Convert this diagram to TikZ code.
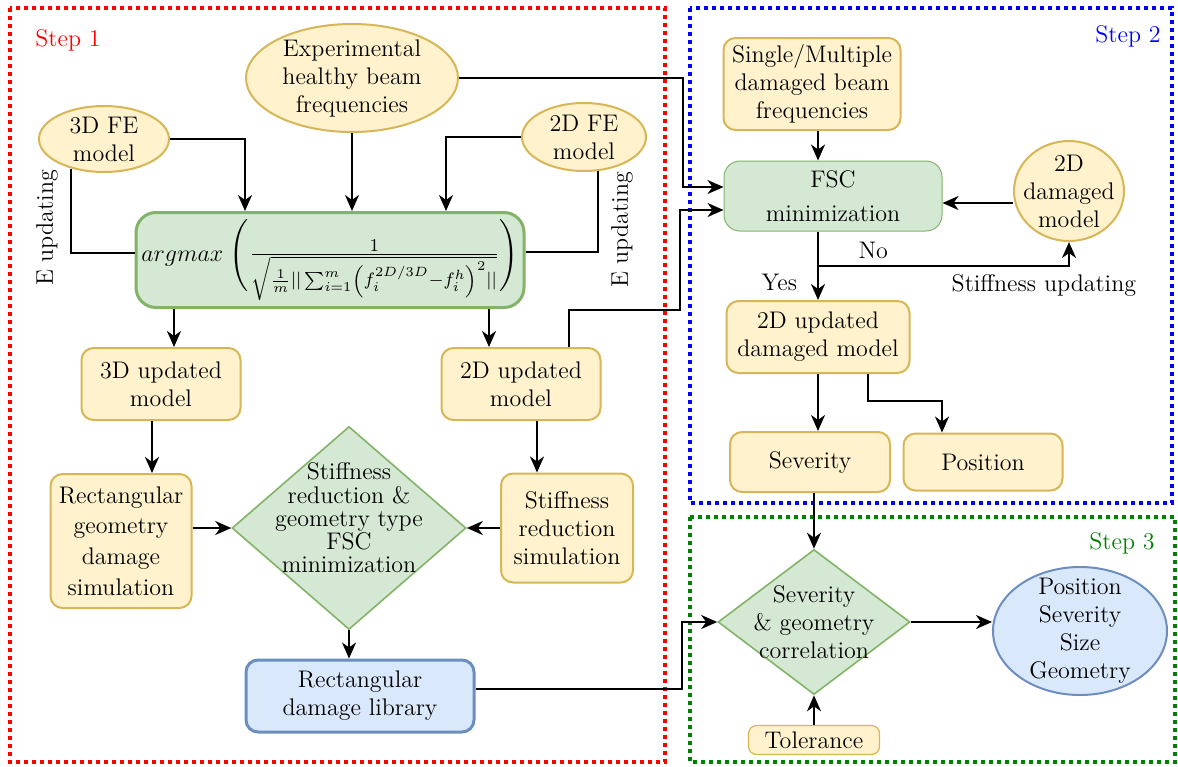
\documentclass[tikz,border=0pt]{standalone}
\usepackage{amsmath}
\usepackage{graphicx}
\usetikzlibrary{shapes.geometric,arrows.meta}

\definecolor{yfill}{HTML}{FFF2CC}
\definecolor{ydraw}{HTML}{D6B656}
\definecolor{gfill}{HTML}{D5E8D4}
\definecolor{gdraw}{HTML}{82B366}
\definecolor{bfill}{HTML}{DAE8FC}
\definecolor{bdraw}{HTML}{6C8EBF}
\definecolor{stepgreen}{HTML}{008000}

\begin{document}
\begin{tikzpicture}
  [x=0.5pt,y=-0.5pt,every node/.style={font=\large,align=center,inner sep=0pt},
   ybox/.style={rectangle,rounded corners=6pt,fill=yfill,draw=ydraw,line width=1pt},
   yell/.style={ellipse,fill=yfill,draw=ydraw,line width=1pt,inner sep=-6pt},
   gbox/.style={rectangle,rounded corners=8pt,fill=gfill,draw=gdraw},
   gdiam/.style={diamond,fill=gfill,draw=gdraw,line width=0.8pt,inner sep=-6pt},
   bbox/.style={rectangle,rounded corners=6pt,fill=bfill,draw=bdraw,line width=1.5pt},
   frame/.style={line width=2pt,dash pattern=on 2pt off 2pt},
   arr/.style={line width=1pt,-{Stealth[length=8pt,width=7pt,inset=2.5pt]}},
   link/.style={line width=1pt}]
  \useasboundingbox (0,0) rectangle (1178,766);

  \draw[frame,red] (10,8) rectangle (665,762);
  \draw[frame,blue] (690,8) rectangle (1172,503);
  \draw[frame,stepgreen] (690,517) rectangle (1175,762);
  \node[red] (step1) at (68,40) {Step 1};
  \node[blue] (step2) at (1128,36) {Step 2};
  \node[stepgreen] (step3) at (1122,543) {Step 3};

  \node[yell,minimum width=106pt,minimum height=54pt] (exper) at (352,78) {Experimental\\healthy beam\\frequencies};
  \node[yell,minimum width=65pt,minimum height=33pt] (fe3) at (104,139) {3D FE\\model};
  \node[yell,minimum width=62pt,minimum height=34pt] (fe2) at (584,137) {2D FE\\model};
  \node[gbox,line width=1.5pt,rounded corners=10pt,minimum width=194pt,minimum height=47.5pt] (argmx) at (330,260)
    {$argmax\;\Bigg(\scalebox{1.12}{$\frac{1}{\sqrt{\frac{1}{m}||\sum_{i=1}^{m}\left(f_i^{2D/3D}-f_i^{h}\right)^2||}}$}\Bigg)$};
  \node[ybox,minimum width=79.5pt,minimum height=36pt] (upd3) at (161,384) {3D updated\\model};
  \node[ybox,minimum width=79.5pt,minimum height=36pt] (upd2) at (521,384) {2D updated\\model};
  \node[ybox,minimum width=70.5pt,minimum height=67pt,font=\linespread{1.1}\large] (rectsim) at (121,541)
    {Rectangular\\geometry\\damage\\simulation};
  \node[gdiam,aspect=1.15,minimum width=117pt,minimum height=101.5pt,
    label={[yshift=5pt,font=\linespread{0.83}\large]center:Stiffness\\reduction \&\\geometry type\\FSC\\minimization}]
    (diam) at (349,528) {};
  \node[ybox,minimum width=66pt,minimum height=54.5pt] (ssim) at (567,528) {Stiffness\\reduction\\simulation};
  \node[bbox,minimum width=114pt,minimum height=36pt] (lib) at (360,696) {Rectangular\\damage library};

  \node[ybox,minimum width=88.5pt,minimum height=46pt] (single) at (812,84) {Single/Multiple\\damaged beam\\frequencies};
  \node[gbox,line width=0.5pt,minimum width=109pt,minimum height=35pt] (fsc) at (833,196) {FSC\\[3pt]minimization};
  \node[yell,minimum width=55pt,minimum height=50pt] (dmg2) at (1069,191) {2D\\damaged\\model};
  \node[ybox,minimum width=91.5pt,minimum height=36pt] (upddm) at (818,337) {2D updated\\damaged model};
  \node[ybox,minimum width=80pt,minimum height=30pt] (sev) at (810,462) {Severity};
  \node[ybox,minimum width=79.5pt,minimum height=28.5pt] (pos) at (983,462) {Position};

  \node[gdiam,aspect=1.3,minimum width=96pt,minimum height=72.5pt] (diam2) at (814,622) {Severity\\\& geometry\\correlation};
  \node[ellipse,fill=bfill,draw=bdraw,line width=1pt,inner sep=-6pt,minimum width=87pt,minimum height=64pt] (out) at (1080,631)
    {Position\\Severity\\Size\\Geometry};
  \node[ybox,rounded corners=4pt,line width=0.6pt,minimum width=65.5pt,minimum height=14.5pt] (tol) at (814,740) {Tolerance};

  \node[rotate=90] (eup1) at (47,228) {E updating};
  \node[rotate=90] (eup2) at (622,230) {E updating};

  \draw[arr] (exper.east) -| ([xshift=-20.5pt,yshift=4.5pt]fsc.west) -- ([yshift=4.5pt]fsc.west);
  \draw[arr] (exper.south) -- (exper.south |- argmx.north);
  \draw[arr] (fe3.east) -| ([xshift=-42.5pt]argmx.north);
  \draw[arr] (fe2.west) -| ([xshift=58pt]argmx.north);
  \draw[link] (fe3.222) |- ([yshift=3.5pt]argmx.west);
  \draw[link] (fe2.293) |- ([yshift=4pt]argmx.east);
  \draw[arr] ([xshift=6.5pt]upd3.north |- argmx.south) -- ([xshift=6.5pt]upd3.north);
  \draw[arr] ([xshift=-16pt]upd2.north |- argmx.south) -- ([xshift=-16pt]upd2.north);
  \draw[arr] ([xshift=-4.5pt]upd3.south) -- ([xshift=-4.5pt]upd3.south |- rectsim.north);
  \draw[arr] ([xshift=8pt]upd2.south) -- ([xshift=8pt]upd2.south |- ssim.north);
  \draw[arr] (rectsim.east |- diam.west) -- (diam.west);
  \draw[arr] (ssim.west) -- (diam.east);
  \draw[arr] (diam.south) -- (diam.south |- lib.north);
  \draw[arr] ([xshift=24pt]upd2.north) -- ++(0,-37) -| ([xshift=-22pt,yshift=-7pt]fsc.west) -- ([yshift=-7pt]fsc.west);
  \draw[arr] ([yshift=3.5pt]lib.east) -| ([xshift=-17.5pt]diam2.west) -- (diam2.west);

  \draw[arr] (upddm.north |- single.south) -- (upddm.north |- fsc.north);
  \draw[arr] ([yshift=-6pt]dmg2.west) -- ([yshift=-6pt]dmg2.west -| fsc.east);
  \draw[arr] (upddm.north |- fsc.south) -- node[pos=0.74,left=10pt]{Yes} (upddm.north);
  \draw[arr] ([yshift=-17pt]upddm.north |- fsc.south) -| node[pos=0.11,above=3pt]{No}
    node[pos=0.45,below=4pt]{Stiffness updating} (dmg2.south);
  \draw[arr] (upddm.south) -- (upddm.south |- sev.north);
  \draw[arr] ([xshift=25pt]upddm.south) -- ++(0,27) -| ([xshift=-20.5pt]pos.north);
  \draw[arr] (diam2.north |- sev.south) -- (diam2.north);
  \draw[arr] (diam2.east) -- (diam2.east -| out.west);
  \draw[arr] (tol.north) -- (diam2.south);
\end{tikzpicture}
\end{document}
